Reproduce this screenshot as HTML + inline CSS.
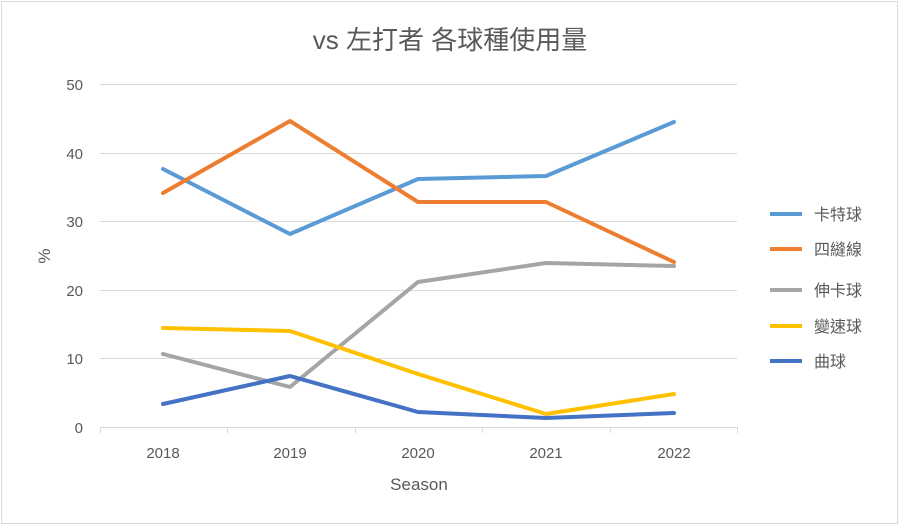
<!DOCTYPE html>
<html><head><meta charset="utf-8"><style>
body{margin:0;background:#fff;}
svg text{font-family:"Liberation Sans","Noto Sans CJK TC",sans-serif;fill:#595959;}
</style></head><body>
<svg width="900" height="527" viewBox="0 0 900 527" xmlns="http://www.w3.org/2000/svg">
<rect x="1.5" y="1.5" width="896" height="522" fill="#fff" stroke="#d9d9d9" stroke-width="1"/>
<text x="450" y="49" font-size="26" text-anchor="middle">vs 左打者 各球種使用量</text>
<g stroke="#d9d9d9" stroke-width="1">
<line x1="100" y1="84.5" x2="737" y2="84.5"/>
<line x1="100" y1="153.5" x2="737" y2="153.5"/>
<line x1="100" y1="221.5" x2="737" y2="221.5"/>
<line x1="100" y1="290.5" x2="737" y2="290.5"/>
<line x1="100" y1="358.5" x2="737" y2="358.5"/>
<line x1="100" y1="427.5" x2="737" y2="427.5"/>
<line x1="100.5" y1="427" x2="100.5" y2="433"/>
<line x1="227.5" y1="427" x2="227.5" y2="433"/>
<line x1="355.5" y1="427" x2="355.5" y2="433"/>
<line x1="482.5" y1="427" x2="482.5" y2="433"/>
<line x1="610.5" y1="427" x2="610.5" y2="433"/>
<line x1="737.5" y1="427" x2="737.5" y2="433"/>
</g>
<g font-size="15" text-anchor="end">
<text x="83" y="90">50</text><text x="83" y="159">40</text><text x="83" y="227">30</text>
<text x="83" y="296">20</text><text x="83" y="364">10</text><text x="83" y="433">0</text>
</g>
<g font-size="15" text-anchor="middle">
<text x="163" y="458">2018</text><text x="290" y="458">2019</text><text x="418" y="458">2020</text>
<text x="546" y="458">2021</text><text x="674" y="458">2022</text>
</g>
<text x="419" y="490" font-size="17" text-anchor="middle">Season</text>
<text x="50" y="256" font-size="17" text-anchor="middle" transform="rotate(-90 50 256)">%</text>
<g fill="none" stroke-width="4" stroke-linejoin="round" stroke-linecap="round">
<polyline stroke="#5b9bd5" points="163,169 290,234 418,179 546,176 674,122"/>
<polyline stroke="#ed7d31" points="163,193 290,121 418,202 546,202 674,262"/>
<polyline stroke="#a5a5a5" points="163,354 290,387 418,282 546,263 674,266"/>
<polyline stroke="#ffc000" points="163,328 290,331 418,374 546,414 674,394"/>
<polyline stroke="#4472c4" points="163,404 290,376 418,412 546,418 674,413"/>
</g>
<g stroke-width="4">
<line x1="770" y1="214" x2="802" y2="214" stroke="#5b9bd5"/>
<line x1="770" y1="249" x2="802" y2="249" stroke="#ed7d31"/>
<line x1="770" y1="290" x2="802" y2="290" stroke="#a5a5a5"/>
<line x1="770" y1="326" x2="802" y2="326" stroke="#ffc000"/>
<line x1="770" y1="361" x2="802" y2="361" stroke="#4472c4"/>
</g>
<g font-size="16">
<text x="814" y="220">卡特球</text><text x="814" y="255">四縫線</text><text x="814" y="296">伸卡球</text>
<text x="814" y="332">變速球</text><text x="814" y="367">曲球</text>
</g>
</svg>
</body></html>
